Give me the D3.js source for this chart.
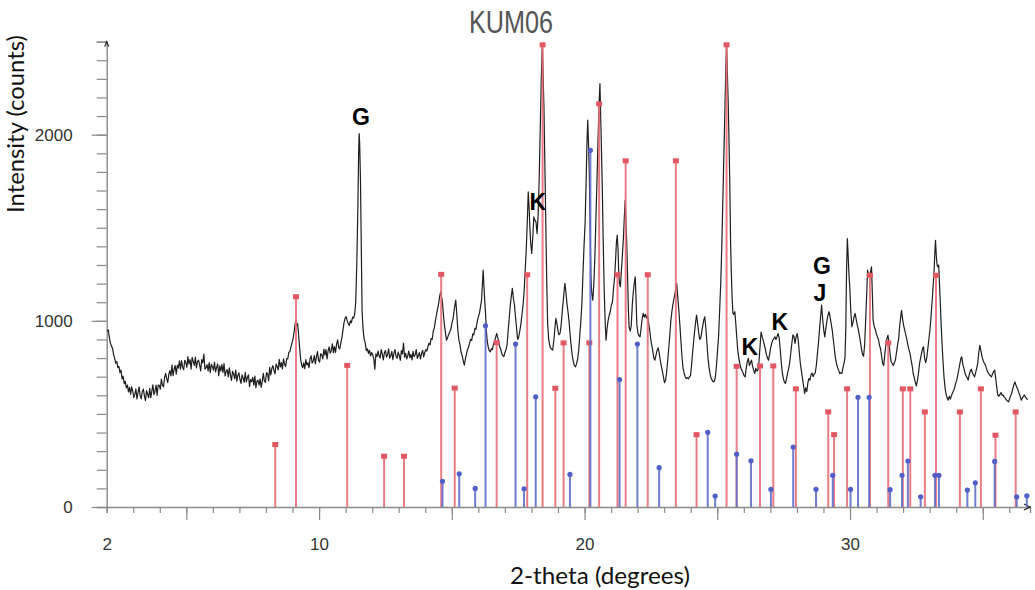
<!DOCTYPE html>
<html><head><meta charset="utf-8">
<script src="https://cdn.jsdelivr.net/npm/d3@7"></script>
<style>body{margin:0;background:#fff}svg{display:block}</style>
</head><body>
<svg id="chart" width="1035" height="590"></svg>
<script>
// ---------------- DATA ----------------
const chartTitle = "KUM06";
const xAxisTitle = "2-theta (degrees)";
const yAxisTitle = "Intensity (counts)";
const xTickLabels = [2, 10, 20, 30];
const yTickLabels = [0, 1000, 2000];

// measured pattern: [2-theta, counts]
const trace = [
[2.02,945],[2.06,952],[2.10,910],[2.14,880],[2.18,865],[2.22,852],[2.26,818],[2.30,800],[2.34,772],[2.38,782],
[2.42,748],[2.46,755],[2.50,722],[2.54,735],[2.58,688],[2.62,702],[2.66,662],[2.70,675],[2.74,640],[2.78,655],
[2.82,618],[2.86,643],[2.90,606],[2.94,645],[2.98,622],[3.02,588],[3.06,606],[3.10,634],[3.14,581],[3.18,615],
[3.22,646],[3.26,596],[3.30,581],[3.34,620],[3.38,633],[3.42,598],[3.46,571],[3.50,625],[3.54,607],[3.58,587],
[3.62,638],[3.66,587],[3.70,622],[3.74,656],[3.78,604],[3.82,622],[3.86,655],[3.90,600],[3.94,655],[3.98,653],
[4.02,633],[4.06,687],[4.10,655],[4.14,645],[4.18,693],[4.22,718],[4.26,689],[4.30,668],[4.34,713],[4.38,733],
[4.42,704],[4.46,762],[4.50,706],[4.54,740],[4.58,760],[4.62,714],[4.66,761],[4.70,746],[4.74,785],[4.78,740],
[4.82,787],[4.86,751],[4.90,737],[4.94,788],[4.98,776],[5.02,750],[5.06,808],[5.10,768],[5.14,792],[5.18,741],
[5.22,804],[5.26,781],[5.30,761],[5.34,805],[5.38,747],[5.42,781],[5.46,789],[5.50,763],[5.54,731],[5.58,792],
[5.62,774],[5.66,821],[5.70,741],[5.74,748],[5.78,765],[5.82,731],[5.86,776],[5.90,722],[5.94,767],[5.98,754],
[6.02,735],[6.06,779],[6.10,726],[6.14,750],[6.18,769],[6.22,705],[6.26,758],[6.30,730],[6.34,765],[6.38,723],
[6.42,771],[6.46,704],[6.50,729],[6.54,738],[6.58,699],[6.62,748],[6.66,709],[6.70,680],[6.74,729],[6.78,716],
[6.82,688],[6.86,736],[6.90,676],[6.94,706],[6.98,721],[7.02,685],[7.06,664],[7.10,710],[7.14,693],[7.18,669],
[7.22,723],[7.26,672],[7.30,696],[7.34,710],[7.38,647],[7.42,685],[7.46,673],[7.50,697],[7.54,655],[7.58,703],
[7.62,641],[7.66,677],[7.70,681],[7.74,655],[7.78,688],[7.82,643],[7.86,676],[7.90,718],[7.94,676],[7.98,670],
[8.02,722],[8.06,716],[8.10,678],[8.14,750],[8.18,709],[8.22,744],[8.26,759],[8.30,734],[8.34,715],[8.38,768],
[8.42,755],[8.46,736],[8.50,793],[8.54,752],[8.58,776],[8.62,742],[8.66,796],[8.70,768],[8.74,754],[8.78,797],
[8.82,795],[8.86,830],[8.90,835],[8.94,860],[8.98,880],[9.02,905],[9.06,940],[9.10,985],[9.13,1007],[9.16,975],
[9.19,985],[9.22,940],[9.26,870],[9.30,800],[9.34,765],[9.38,748],[9.42,774],[9.46,743],[9.50,792],[9.54,763],
[9.58,775],[9.62,748],[9.66,797],[9.70,812],[9.74,773],[9.78,784],[9.82,814],[9.86,769],[9.90,806],[9.94,835],
[9.98,788],[10.02,778],[10.06,823],[10.10,818],[10.14,795],[10.18,848],[10.22,816],[10.26,845],[10.30,796],[10.34,839],
[10.38,860],[10.42,826],[10.46,841],[10.50,876],[10.54,829],[10.58,862],[10.62,830],[10.66,875],[10.70,898],[10.74,855],
[10.78,850],[10.82,880],[10.86,910],[10.90,950],[10.94,990],[10.98,1015],[11.02,1022],[11.06,1000],[11.10,985],[11.14,975],
[11.18,1000],[11.22,990],[11.26,1020],[11.30,1015],[11.34,1035],[11.38,1100],[11.42,1300],[11.46,1600],[11.49,1900],[11.51,2006],
[11.53,1950],[11.56,1750],[11.59,1400],[11.62,1050],[11.66,950],[11.70,900],[11.74,880],[11.78,840],[11.82,850],[11.86,825],
[11.90,842],[11.94,812],[11.98,830],[12.02,818],[12.06,796],[12.10,740],[12.14,822],[12.18,808],[12.22,838],[12.26,812],
[12.30,800],[12.34,845],[12.38,822],[12.42,790],[12.46,828],[12.50,840],[12.54,805],[12.58,818],[12.62,850],[12.66,800],
[12.70,812],[12.74,836],[12.78,792],[12.82,826],[12.86,846],[12.90,810],[12.94,798],[12.98,832],[13.02,815],[13.06,788],
[13.10,840],[13.14,822],[13.18,880],[13.22,805],[13.26,826],[13.30,795],[13.34,812],[13.38,838],[13.42,802],[13.46,820],
[13.50,790],[13.54,836],[13.58,808],[13.62,818],[13.66,845],[13.70,798],[13.74,812],[13.78,830],[13.82,795],[13.86,824],
[13.90,842],[13.94,806],[13.98,830],[14.02,845],[14.06,838],[14.10,862],[14.14,880],[14.18,870],[14.22,905],[14.26,900],
[14.30,945],[14.34,960],[14.38,1000],[14.42,1030],[14.46,1060],[14.50,1090],[14.54,1130],[14.58,1156],[14.61,1130],[14.64,1110],
[14.68,1040],[14.72,980],[14.76,935],[14.80,896],[14.84,910],[14.88,925],[14.92,940],[14.96,952],[15.00,985],[15.05,1015],
[15.10,1070],[15.15,1111],[15.19,1030],[15.23,945],[15.27,895],[15.31,870],[15.35,830],[15.39,815],[15.43,785],[15.47,762],
[15.51,795],[15.55,820],[15.59,845],[15.63,858],[15.67,880],[15.71,902],[15.75,895],[15.79,930],[15.83,925],[15.87,960],
[15.91,955],[15.95,990],[16.00,1022],[16.04,1040],[16.08,1075],[16.12,1111],[16.15,1190],[16.18,1272],[16.21,1190],[16.24,1110],
[16.27,1040],[16.30,950],[16.33,896],[16.37,860],[16.41,840],[16.45,834],[16.49,850],[16.53,845],[16.57,875],[16.61,890],
[16.65,910],[16.69,932],[16.72,915],[16.76,895],[16.80,862],[16.84,848],[16.88,826],[16.92,812],[16.96,808],[17.00,830],
[17.04,845],[17.08,870],[17.12,940],[17.16,1010],[17.20,1080],[17.24,1130],[17.28,1174],[17.32,1120],[17.36,1085],[17.40,1020],
[17.44,960],[17.48,900],[17.52,915],[17.56,945],[17.60,980],[17.64,1030],[17.68,1080],[17.72,1150],[17.76,1260],[17.80,1370],
[17.84,1520],[17.88,1693],[17.91,1610],[17.94,1505],[17.97,1420],[18.01,1362],[18.05,1450],[18.09,1558],[18.13,1540],[18.17,1532],
[18.21,1470],[18.25,1560],[18.29,1755],[18.33,2020],[18.37,2300],[18.41,2480],[18.44,2320],[18.47,2149],[18.51,1800],[18.55,1433],
[18.58,1180],[18.61,986],[18.65,900],[18.70,860],[18.75,848],[18.80,843],[18.85,905],[18.89,970],[18.92,1013],[18.96,985],
[19.00,945],[19.04,925],[19.08,935],[19.12,980],[19.16,1050],[19.20,1110],[19.23,1160],[19.26,1201],[19.30,1150],[19.34,1090],
[19.38,1045],[19.42,990],[19.46,920],[19.50,860],[19.54,810],[19.58,780],[19.62,758],[19.66,753],[19.70,770],[19.74,795],
[19.78,840],[19.82,920],[19.86,1000],[19.90,1090],[19.94,1250],[19.98,1400],[20.02,1523],[20.06,1750],[20.09,1950],[20.12,2078],
[20.15,1950],[20.18,1791],[20.21,1500],[20.24,1236],[20.27,1150],[20.31,1111],[20.35,1200],[20.39,1344],[20.43,1560],[20.47,1760],
[20.51,1980],[20.55,2180],[20.58,2274],[20.61,2080],[20.64,1900],[20.67,1702],[20.70,1450],[20.74,1165],[20.78,980],[20.81,896],
[20.85,960],[20.89,1004],[20.93,1030],[20.97,1050],[21.01,1085],[21.05,1100],[21.09,1170],[21.13,1230],[21.17,1330],[21.20,1420],
[21.23,1460],[21.26,1390],[21.29,1250],[21.32,1200],[21.35,1183],[21.38,1250],[21.42,1340],[21.46,1433],[21.50,1560],[21.53,1648],
[21.56,1540],[21.59,1420],[21.62,1250],[21.65,1060],[21.68,968],[21.72,945],[21.76,975],[21.80,1090],[21.84,1160],[21.88,1210],
[21.91,1236],[21.94,1120],[21.97,980],[22.01,935],[22.05,920],[22.09,914],[22.13,960],[22.17,1010],[22.21,1040],[22.25,1020],
[22.29,1035],[22.33,1015],[22.37,1030],[22.41,990],[22.45,955],[22.49,905],[22.53,870],[22.57,840],[22.61,800],[22.65,789],
[22.69,815],[22.73,840],[22.77,855],[22.81,830],[22.85,790],[22.89,760],[22.93,730],[22.97,700],[23.01,668],[23.05,680],
[23.09,720],[23.13,780],[23.17,850],[23.21,920],[23.25,1000],[23.29,1050],[23.33,1090],[23.37,1120],[23.41,1147],[23.44,1180],
[23.47,1201],[23.51,1130],[23.55,1060],[23.59,980],[23.63,890],[23.67,810],[23.71,745],[23.75,720],[23.79,700],[23.83,690],
[23.87,695],[23.91,688],[23.95,700],[23.99,705],[24.03,760],[24.07,830],[24.11,890],[24.15,950],[24.19,1000],[24.22,1031],
[24.26,985],[24.30,935],[24.34,900],[24.38,910],[24.42,945],[24.46,980],[24.50,1010],[24.53,1022],[24.57,960],[24.61,880],
[24.65,800],[24.69,750],[24.73,715],[24.77,690],[24.81,680],[24.85,672],[24.89,675],[24.93,700],[24.97,760],[25.01,840],
[25.05,920],[25.09,1060],[25.13,1200],[25.17,1400],[25.21,1650],[25.25,1900],[25.29,2150],[25.32,2350],[25.35,2480],[25.38,2330],
[25.41,2180],[25.44,1980],[25.47,1750],[25.50,1433],[25.53,1250],[25.56,1120],[25.59,1040],[25.62,1035],[25.66,1049],[25.69,1000],
[25.73,920],[25.77,845],[25.81,800],[25.85,770],[25.89,745],[25.93,735],[25.97,720],[26.01,705],[26.05,699],[26.09,745],
[26.13,780],[26.17,798],[26.21,760],[26.25,775],[26.29,789],[26.33,755],[26.37,735],[26.41,717],[26.45,745],[26.49,730],
[26.53,735],[26.57,780],[26.61,860],[26.65,940],[26.69,915],[26.73,895],[26.77,872],[26.81,850],[26.85,820],[26.89,800],
[26.93,789],[26.97,820],[27.01,855],[27.05,879],[27.09,895],[27.13,905],[27.17,914],[27.21,900],[27.25,915],[27.29,932],
[27.33,910],[27.37,850],[27.41,775],[27.45,720],[27.49,690],[27.53,670],[27.57,664],[27.61,690],[27.65,720],[27.69,745],
[27.73,780],[27.77,830],[27.81,880],[27.85,925],[27.89,915],[27.93,879],[27.97,915],[28.01,932],[28.05,895],[28.09,830],
[28.13,770],[28.17,730],[28.21,690],[28.25,650],[28.29,610],[28.33,640],[28.37,620],[28.41,665],[28.45,690],[28.49,682],
[28.53,710],[28.57,720],[28.61,700],[28.65,715],[28.69,720],[28.73,760],[28.77,820],[28.81,880],[28.85,950],[28.89,1020],
[28.93,1084],[28.97,1010],[29.01,950],[29.05,914],[29.09,960],[29.13,1000],[29.17,1030],[29.21,1049],[29.25,1020],[29.29,985],
[29.33,950],[29.37,900],[29.41,850],[29.45,800],[29.49,771],[29.53,750],[29.57,735],[29.61,717],[29.65,722],[29.69,717],
[29.73,745],[29.77,770],[29.81,800],[29.84,950],[29.87,1272],[29.90,1442],[29.93,1350],[29.96,1250],[29.99,1183],[30.03,1050],
[30.07,968],[30.11,990],[30.15,1020],[30.19,1040],[30.23,1010],[30.27,980],[30.31,955],[30.35,925],[30.39,890],[30.43,850],
[30.47,820],[30.51,810],[30.55,870],[30.59,1004],[30.63,1150],[30.66,1272],[30.70,1240],[30.74,1236],[30.78,1270],[30.81,1290],
[30.84,1150],[30.87,1004],[30.91,970],[30.95,955],[30.99,932],[31.03,915],[31.07,900],[31.11,870],[31.15,850],[31.19,810],
[31.23,770],[31.27,760],[31.31,820],[31.35,870],[31.39,905],[31.43,923],[31.47,880],[31.51,820],[31.55,780],[31.59,771],
[31.63,760],[31.67,775],[31.71,790],[31.75,830],[31.79,870],[31.83,900],[31.87,970],[31.91,1020],[31.94,1057],[31.98,1010],
[32.02,975],[32.06,950],[32.10,925],[32.14,900],[32.18,870],[32.22,845],[32.26,825],[32.30,790],[32.34,760],[32.38,717],
[32.42,695],[32.46,670],[32.50,650],[32.54,680],[32.58,720],[32.62,771],[32.66,800],[32.70,830],[32.74,855],[32.77,860],
[32.81,800],[32.85,775],[32.89,800],[32.93,850],[32.97,900],[33.01,950],[33.05,1020],[33.09,1100],[33.13,1183],[33.17,1280],
[33.20,1380],[33.22,1433],[33.25,1350],[33.28,1300],[33.31,1290],[33.34,1300],[33.37,1200],[33.40,1100],[33.43,990],[33.46,900],
[33.50,790],[33.54,700],[33.58,640],[33.62,605],[33.66,585],[33.70,574],[33.74,595],[33.78,580],[33.82,598],[33.86,612],
[33.90,625],[33.94,640],[33.98,665],[34.02,680],[34.06,710],[34.10,740],[34.14,770],[34.18,800],[34.21,807],[34.25,765],
[34.29,745],[34.33,720],[34.37,705],[34.41,695],[34.45,682],[34.49,710],[34.53,730],[34.57,740],[34.61,720],[34.65,710],
[34.69,699],[34.73,720],[34.77,745],[34.81,771],[34.85,830],[34.89,869],[34.93,840],[34.97,810],[35.01,789],[35.05,775],
[35.09,765],[35.13,750],[35.17,730],[35.21,720],[35.25,710],[35.29,705],[35.33,699],[35.37,715],[35.41,728],[35.45,735],
[35.49,690],[35.53,640],[35.57,600],[35.61,595],[35.65,605],[35.69,615],[35.73,600],[35.77,601],[35.81,590],[35.85,585],
[35.89,575],[35.93,570],[35.97,565],[36.01,580],[36.05,598],[36.09,610],[36.13,635],[36.17,655],[36.21,672],[36.25,655],
[36.29,640],[36.33,628],[36.37,610],[36.41,595],[36.45,574],[36.49,585],[36.53,595],[36.57,601],[36.61,590],[36.65,583],
[36.69,575]
];

// reference phase 1 (red, square markers)
const redTheta  = [8.35, 9.13, 11.06, 12.45, 13.20, 14.60, 15.11, 16.69, 17.84, 18.42, 18.90, 19.21, 20.18, 20.55, 21.24, 21.55, 22.38, 23.44, 24.22, 25.35, 25.73, 26.61, 27.11, 27.96, 29.18, 29.40, 29.89, 30.75, 31.44, 31.99, 32.27, 32.82, 33.24, 34.14, 34.93, 35.48, 36.24];
const redCounts = [333, 1127, 758, 270, 270, 1247, 636, 880, 1245, 2480, 635, 879, 879, 2163, 1245, 1857, 1245, 1857, 386, 2480, 753, 755, 755, 632, 508, 386, 632, 1242, 879, 632, 632, 508, 1242, 508, 632, 383, 508];

// reference phase 2 (blue, round markers)
const blueTheta  = [14.65, 15.28, 15.88, 16.27, 17.40, 17.72, 18.16, 19.45, 20.22, 21.32, 21.99, 22.81, 24.64, 24.92, 25.73, 26.27, 27.02, 27.86, 28.72, 29.35, 30.02, 30.30, 30.72, 31.51, 31.96, 32.18, 32.66, 33.20, 33.35, 34.42, 34.72, 35.45, 36.28, 36.66];
const blueCounts = [138, 178, 100, 973, 875, 98, 592, 175, 1916, 685, 875, 211, 401, 59, 284, 248, 95, 322, 95, 170, 95, 589, 589, 93, 170, 247, 55, 170, 170, 91, 130, 245, 55, 60];

// peak labels
const labelText   = ["G", "K", "K", "K", "G", "J"];
const labelTheta  = [11.58, 18.24, 26.23, 27.36, 28.94, 28.87];
const labelCounts = [2052, 1595, 816, 951, 1251, 1106];

// ---------------- CHART ----------------
const svg = d3.select("#chart");
const x = d3.scaleLinear().domain([2, 36.78]).range([106.7, 1030]);
const y = d3.scaleLinear().domain([0, 2500]).range([507, 41.6]);
const axisColor = "#8a8a8a";

// title
svg.append("text").attr("x", 511).attr("y", 33).attr("text-anchor", "middle")
  .attr("font-family", "'Liberation Sans', Arial, sans-serif")
  .attr("font-size", 31).attr("fill", "#555")
  .attr("textLength", 84).attr("lengthAdjust", "spacingAndGlyphs").text(chartTitle);

// y axis: minor ticks every 100, major every 1000
const gyMinor = svg.append("g").attr("transform", `translate(${x(2)},0)`)
  .call(d3.axisLeft(y).tickValues(d3.range(0, 2501, 100)).tickSize(10).tickFormat(""));
const gyMajor = svg.append("g").attr("transform", `translate(${x(2)},0)`)
  .call(d3.axisLeft(y).tickValues(yTickLabels).tickSize(15).tickPadding(19).tickFormat(d3.format("d")));
// x axis: minor every 1 degree, major every 5
const gxMinor = svg.append("g").attr("transform", `translate(0,${y(0)})`)
  .call(d3.axisBottom(x).tickValues(d3.range(2, 37, 1)).tickSize(6).tickFormat(""));
const gxMajor = svg.append("g").attr("transform", `translate(0,${y(0)})`)
  .call(d3.axisBottom(x).tickValues([5, 10, 15, 20, 25, 30, 35]).tickSize(13).tickFormat(""));
const gxLab = svg.append("g").attr("transform", `translate(0,${y(0)})`)
  .call(d3.axisBottom(x).tickValues(xTickLabels).tickSize(0).tickPadding(31).tickFormat(d3.format("d")));

[gyMinor, gyMajor, gxMinor, gxMajor, gxLab].forEach(g => {
  g.selectAll(".domain").attr("stroke", axisColor).attr("stroke-width", 1.4);
  g.selectAll(".tick line").attr("stroke", axisColor).attr("stroke-width", 1.2);
  g.selectAll(".tick text").attr("fill", "#333").attr("font-size", 17)
    .attr("font-family", "'Liberation Sans', Arial, sans-serif");
});
gxLab.select(".domain").remove();
gxMajor.select(".domain").remove();
gyMajor.select(".domain").remove();

// axis end arrows
svg.append("path").attr("d", `M${x(36.78)-6},${y(0)-3} L${x(36.78)},${y(0)} L${x(36.78)-6},${y(0)+3}`)
  .attr("fill", "none").attr("stroke", "#222").attr("stroke-width", 1.3);
svg.append("path").attr("d", `M${x(2)-2},${y(2500)+5} L${x(2)},${y(2500)} L${x(2)+2},${y(2500)+5}`)
  .attr("fill", "none").attr("stroke", "#222").attr("stroke-width", 1.2);

// trace
const line = d3.line().x(d => x(d[0])).y(d => y(d[1]));
svg.append("path").datum(trace).attr("d", line)
  .attr("fill", "none").attr("stroke", "#1e1e1e").attr("stroke-width", 1.2).attr("stroke-linejoin", "round");

// sticks
const red = redTheta.map((t, i) => ({t, c: redCounts[i]}));
const blue = blueTheta.map((t, i) => ({t, c: blueCounts[i]}));
const gRed = svg.append("g");
gRed.selectAll("line").data(red).join("line")
  .attr("x1", d => x(d.t)).attr("x2", d => x(d.t)).attr("y1", y(0)).attr("y2", d => y(d.c))
  .attr("stroke", "rgb(232,112,118)").attr("stroke-width", 2).attr("opacity", 0.9);
gRed.selectAll("rect").data(red).join("rect")
  .attr("x", d => x(d.t) - 3).attr("y", d => y(d.c) - 3).attr("width", 6).attr("height", 5)
  .attr("fill", "rgb(226,88,98)");
const gBlue = svg.append("g");
gBlue.selectAll("line").data(blue).join("line")
  .attr("x1", d => x(d.t)).attr("x2", d => x(d.t)).attr("y1", y(0)).attr("y2", d => y(d.c))
  .attr("stroke", "rgb(98,112,205)").attr("stroke-width", 2).attr("opacity", 0.9);
gBlue.selectAll("circle").data(blue).join("circle")
  .attr("cx", d => x(d.t)).attr("cy", d => y(d.c)).attr("r", 2.6)
  .attr("fill", "rgb(80,96,200)");

// peak labels
svg.append("g").selectAll("text").data(labelText).join("text")
  .attr("x", (d, i) => x(labelTheta[i])).attr("y", (d, i) => y(labelCounts[i]))
  .attr("text-anchor", "middle").attr("font-family", "'Liberation Sans', Arial, sans-serif")
  .attr("font-weight", "bold").attr("font-size", 23).attr("fill", "#000").text(d => d);

// axis titles
svg.append("text").attr("x", 600).attr("y", 584).attr("text-anchor", "middle")
  .attr("font-family", "Lato, 'Open Sans', sans-serif").attr("font-size", 23)
  .attr("textLength", 180).attr("lengthAdjust", "spacingAndGlyphs")
  .attr("fill", "#111").text(xAxisTitle);
svg.append("text").attr("transform", "translate(24,124) rotate(-90)").attr("text-anchor", "middle")
  .attr("font-family", "Lato, 'Open Sans', sans-serif").attr("font-size", 23)
  .attr("textLength", 178).attr("lengthAdjust", "spacingAndGlyphs")
  .attr("fill", "#111").text(yAxisTitle);
</script>
</body></html>
